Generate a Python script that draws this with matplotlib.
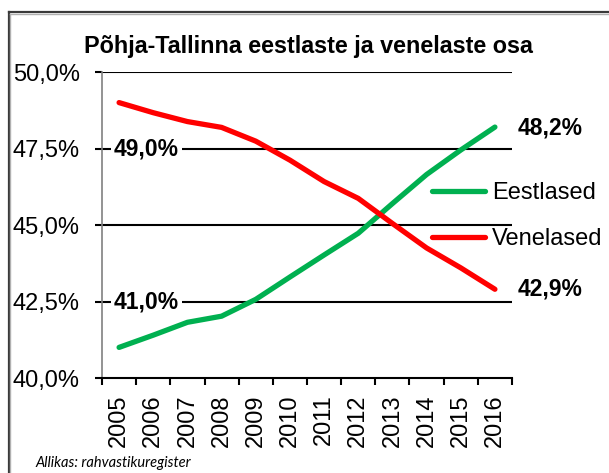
import matplotlib
matplotlib.use("Agg")
import matplotlib.pyplot as plt
from matplotlib.lines import Line2D

years = ["2005", "2006", "2007", "2008", "2009", "2010", "2011", "2012", "2013", "2014", "2015", "2016"]
eestlased = [41.0, 41.4, 41.82, 42.02, 42.57, 43.3, 44.02, 44.73, 45.7, 46.65, 47.45, 48.2]
venelased = [49.0, 48.67, 48.38, 48.19, 47.74, 47.12, 46.42, 45.87, 45.05, 44.25, 43.6, 42.9]
yticks = [40.0, 42.5, 45.0, 47.5, 50.0]
ytick_labels = ["40,0%", "42,5%", "45,0%", "47,5%", "50,0%"]
title = "Põhja-Tallinna eestlaste ja venelaste osa"
source = "Allikas: rahvastikuregister"
green = "#00B050"
red = "#FF0000"


def pct(v):
    return f"{v:.1f}%".replace(".", ",")


plt.rcParams['font.family'] = ['Liberation Sans', 'DejaVu Sans']

W, H = 609, 473
fig = plt.figure(figsize=(W / 100, H / 100), dpi=100)
ax = fig.add_axes([102 / W, 1 - 378 / H, (512 - 102) / W, (378 - 72) / H])

x = list(range(len(years)))
for yv in yticks[1:]:
    ax.axhline(yv, color="black", lw=1.5, zorder=1)

ax.plot(x, eestlased, color=green, lw=3.8, solid_capstyle="round", label="Eestlased", zorder=3)
ax.plot(x, venelased, color=red, lw=3.8, solid_capstyle="round", label="Venelased", zorder=3)

ax.set_xlim(-0.5, len(years) - 0.5)
ax.set_ylim(40, 50)
ax.set_yticks(yticks)
ax.set_yticklabels(ytick_labels, fontsize=17)
ax.set_xticks(x)
ax.set_xticklabels(years, rotation=90, fontsize=17)
ax.set_xticks([i - 0.5 for i in range(len(years) + 1)], minor=True)
ax.tick_params(axis="x", which="major", length=0, pad=12)
ax.tick_params(axis="x", which="minor", length=5, width=1.5, direction="out", color="black")
ax.tick_params(axis="y", which="major", length=5, width=1.5, direction="out", pad=11, color="black")

for s in ["top", "right"]:
    ax.spines[s].set_visible(False)
ax.spines["left"].set_color("#808080")
ax.spines["left"].set_linewidth(1.2)
ax.spines["bottom"].set_color("black")
ax.spines["bottom"].set_linewidth(1.5)

bb = dict(facecolor="white", edgecolor="none", pad=2)
ax.text(0.8, 47.5, pct(venelased[0]), ha="center", va="center", fontsize=16.5,
        fontweight="bold", bbox=bb, zorder=4)
ax.text(0.8, 42.5, pct(eestlased[0]), ha="center", va="center", fontsize=16.5,
        fontweight="bold", bbox=bb, zorder=4)
ax.annotate(pct(eestlased[-1]), xy=(x[-1], eestlased[-1]), xytext=(40, -1),
            textcoords="offset points", ha="center", va="center", fontsize=16.5, fontweight="bold",
            annotation_clip=False)
ax.annotate(pct(venelased[-1]), xy=(x[-1], venelased[-1]), xytext=(40, 0),
            textcoords="offset points", ha="center", va="center", fontsize=16.5, fontweight="bold",
            annotation_clip=False)

ax.legend(loc="center left", bbox_to_anchor=(432 / W, 1 - 216 / H), bbox_transform=fig.transFigure,
          frameon=False, fontsize=17, handlelength=2.25, handletextpad=0.3, labelspacing=1.0,
          borderpad=0, borderaxespad=0)

fig.text(308 / W, 1 - 46 / H, title, ha="center", va="center", fontsize=16.8, fontweight="bold")
fig.text(35 / W, 1 - 463 / H, source, ha="left", va="center", fontsize=10.5, style="italic",
         family=["Lato", "DejaVu Sans"])

# outer frame
fig.add_artist(Line2D([8.5 / W, 8.5 / W], [0, 1 - 12 / H], color="#3a3a3a", lw=1.6, transform=fig.transFigure))
fig.add_artist(Line2D([8.5 / W, 1], [1 - 12 / H, 1 - 12 / H], color="#3a3a3a", lw=1.6, transform=fig.transFigure))
fig.add_artist(Line2D([10.3 / W, 10.3 / W], [0, 1 - 13.8 / H], color="#b0b0b0", lw=1.0, transform=fig.transFigure))
fig.add_artist(Line2D([10.3 / W, 1], [1 - 13.8 / H, 1 - 13.8 / H], color="#b0b0b0", lw=1.0, transform=fig.transFigure))

fig.savefig("out.png", dpi=100)
